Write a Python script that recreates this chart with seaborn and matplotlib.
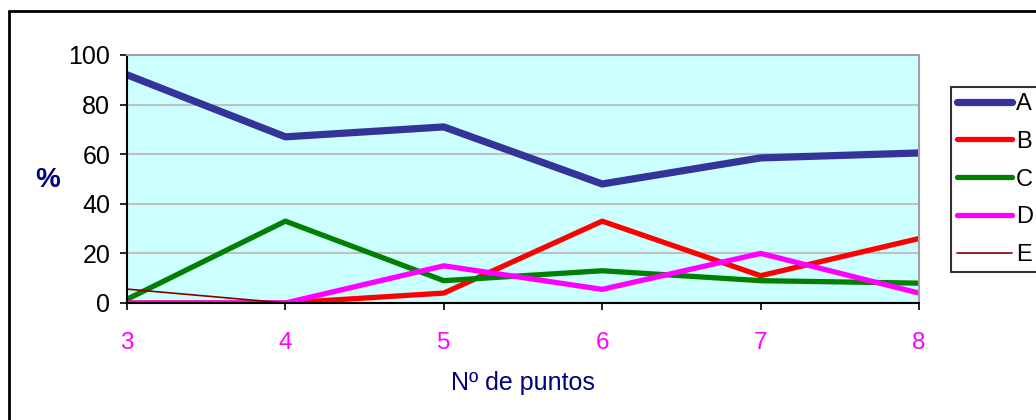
import matplotlib
matplotlib.use("Agg")
import matplotlib.pyplot as plt
import seaborn as sns
from matplotlib.lines import Line2D

# ---------------- DATOS ----------------
puntos = [3, 4, 5, 6, 7, 8]
serie_a = [92, 67, 71, 48, 58.5, 60.5]
serie_b = [0, 0, 4, 33, 11, 26]
serie_c = [1.5, 33, 9, 13, 9, 8]
serie_d = [0, 0, 15, 5.5, 20, 4]
serie_e = [5.6, 0, 0, 0, 0, 0]

nombres = ["A", "B", "C", "D", "E"]
colores = ["#333399", "#FF0000", "#008000", "#FF00FF", "#800000"]
grosores = [5.2, 3.8, 3.8, 3.8, 1.2]

sns.set_theme(style="white")
plt.rcParams["font.family"] = ["Liberation Sans", "DejaVu Sans"]

fig = plt.figure(figsize=(10.36, 4.2), dpi=100)
ax = fig.add_axes([127 / 1036, 1 - 303 / 420, 792 / 1036, 248 / 420])
ax.set_facecolor("#CCFFFF")

for nombre, valores, color, lw in zip(nombres, [serie_a, serie_b, serie_c, serie_d, serie_e], colores, grosores):
    sns.lineplot(x=puntos, y=valores, ax=ax, color=color, linewidth=lw, label=nombre, legend=False)

ax.set_xlim(3, 8)
ax.set_ylim(0, 100)
ax.set_yticks(range(0, 101, 20))
ax.set_xticks(puntos)
ax.yaxis.grid(True, color="#C0C0C0", linewidth=1.5)
ax.set_axisbelow(True)

ax.tick_params(axis="y", labelsize=18, colors="black", direction="out", length=5, width=1.2, left=True, pad=7)
ax.tick_params(axis="x", labelsize=17.5, labelcolor="#FF00FF", color="black", direction="out", length=5, width=1.2, bottom=True, pad=16)

for lado in ["left", "bottom"]:
    ax.spines[lado].set_color("black")
    ax.spines[lado].set_linewidth(1.5)
for lado in ["top", "right"]:
    ax.spines[lado].set_color("#A0A0A0")
    ax.spines[lado].set_linewidth(1.5)

ax.set_xlabel("Nº de puntos", fontsize=18, color="#000080", va="center")
ax.xaxis.set_label_coords(0.5, -(383 - 303) / 248)
ax.set_ylabel("%", fontsize=20, fontweight="bold", color="#000080", rotation=0, va="center", ha="center")
ax.yaxis.set_label_coords(-(127 - 48) / 792, (303 - 180) / 248)

# Leyenda
handles = [Line2D([0], [0], color=c, linewidth=lw, solid_capstyle="round") for c, lw in zip(colores, grosores)]
leg = fig.legend(handles, nombres, loc="upper left", bbox_to_anchor=(951 / 1036, 1 - 87 / 420),
                 fontsize=17, labelcolor="black", frameon=True, fancybox=False, handlelength=2.35,
                 handletextpad=0.15, labelspacing=0.67, borderpad=0.25, borderaxespad=0)
leg.get_frame().set_edgecolor("black")
leg.get_frame().set_linewidth(1.5)

# Marco exterior del gráfico
fig.add_artist(Line2D([9 / 1036, 9 / 1036], [-0.1, 1 - 11 / 420], color="black", linewidth=2))
fig.add_artist(Line2D([9 / 1036, 1.1], [1 - 11 / 420, 1 - 11 / 420], color="black", linewidth=2))

fig.savefig("out.png", dpi=100)
